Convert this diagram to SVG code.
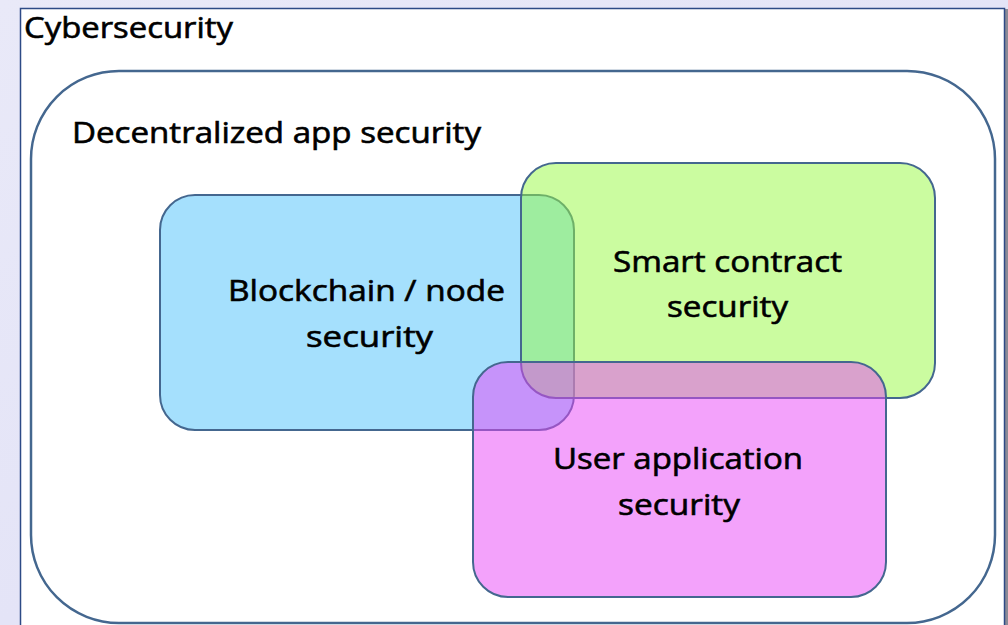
<svg xmlns="http://www.w3.org/2000/svg" width="1008" height="625" viewBox="0 0 1008 625">
  <defs>
    <linearGradient id="bg" x1="0" y1="0" x2="1" y2="1">
      <stop offset="0" stop-color="#e9e9f8"/>
      <stop offset="0.5" stop-color="#e4e4f7"/>
      <stop offset="1" stop-color="#e8e8f8"/>
    </linearGradient>
  </defs>
  <style>
    .lbl { font-family: "Open Sans", "Liberation Sans", sans-serif; font-size: 29px; fill: #000000; stroke: #000000; stroke-width: 0.6px; }
    .box { stroke: #44678f; stroke-width: 2; }
  </style>
  <rect x="0" y="0" width="1008" height="625" fill="url(#bg)"/>
  <g id="cybersecurity">
    <rect x="1005" y="9" width="3" height="620" fill="#8a8a96"/>
    <rect x="20.5" y="8.5" width="984" height="630" fill="#ffffff" stroke="#2d4a86" stroke-width="1.5"/>
    <text class="lbl" x="24" y="38" textLength="209" lengthAdjust="spacingAndGlyphs">Cybersecurity</text>
  </g>
  <g id="dapp-security">
    <rect x="31" y="71" width="964" height="552" rx="88" ry="88" fill="#ffffff" stroke="#44678f" stroke-width="2.5"/>
    <text class="lbl" x="72" y="143" textLength="409" lengthAdjust="spacingAndGlyphs">Decentralized app security</text>
  </g>
  <g id="blockchain-security">
    <rect class="box" x="160" y="195" width="414" height="235" rx="35" ry="35" fill="#a5e0fd"/>
  </g>
  <g id="smart-contract-security">
    <rect class="box" x="521" y="163" width="414" height="235" rx="35" ry="35" fill="rgb(151,249,65)" fill-opacity="0.5"/>
  </g>
  <g id="user-app-security">
    <rect class="box" x="473" y="362" width="413" height="235" rx="35" ry="35" fill="rgb(231,69,247)" fill-opacity="0.5"/>
  </g>
  <g id="labels">
    <text class="lbl" x="228" y="301" textLength="277" lengthAdjust="spacingAndGlyphs">Blockchain / node</text>
    <text class="lbl" x="306" y="347" textLength="127" lengthAdjust="spacingAndGlyphs">security</text>
    <text class="lbl" x="613" y="272" textLength="229" lengthAdjust="spacingAndGlyphs">Smart contract</text>
    <text class="lbl" x="667" y="317" textLength="121" lengthAdjust="spacingAndGlyphs">security</text>
    <text class="lbl" x="553" y="469" textLength="250" lengthAdjust="spacingAndGlyphs">User application</text>
    <text class="lbl" x="618" y="515" textLength="122" lengthAdjust="spacingAndGlyphs">security</text>
  </g>
</svg>
